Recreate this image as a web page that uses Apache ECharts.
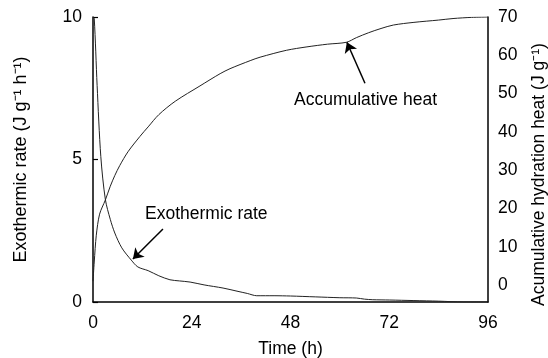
<!DOCTYPE html>
<html>
<head>
<meta charset="utf-8">
<script src="https://cdn.jsdelivr.net/npm/echarts@6/dist/echarts.min.js"></script>
<style>html,body{margin:0;padding:0;background:#fff}#c{width:548px;height:358px}</style>
</head>
<body>
<div id="c"></div>
<script>
// Exothermic rate (left axis)
const exoTime = [0, 0.3, 1.0, 1.9, 3.0, 4.2, 5.3, 7.0, 9.3, 10.9, 13.4, 16.0, 18.7, 21.0, 23.6, 27.0, 31.6, 35.0, 37.5, 39.8, 44.0, 48.0, 54.0, 60.0, 64.0, 66.0, 68.0, 72.0, 78.0, 84.0, 90.0, 96.0];
const exoRate = [10, 9.95, 7.6, 5.1, 3.6, 2.9, 2.42, 1.9, 1.47, 1.23, 1.1, 0.92, 0.78, 0.74, 0.70, 0.60, 0.49, 0.38, 0.30, 0.22, 0.22, 0.21, 0.18, 0.15, 0.14, 0.10, 0.08, 0.07, 0.05, 0.03, 0.0, 0.0];
// Accumulative heat (right axis)
const accTime = [0, 0.3, 0.8, 1.6, 3.0, 4.2, 5.3, 6.5, 8.5, 11.4, 13.4, 16.0, 20.0, 26.0, 30.9, 33.3, 38.2, 40.6, 47.0, 52.0, 57.0, 61.6, 64.0, 67.0, 70.0, 73.0, 78.0, 84.0, 87.5, 92.0, 96.0];
const accHeat = [1.0, 6.0, 13.0, 18.5, 22.2, 25.8, 28.6, 31.2, 34.8, 38.8, 41.3, 44.5, 48.0, 52.0, 55.2, 56.5, 58.6, 59.5, 61.3, 62.2, 62.9, 63.4, 64.6, 65.9, 67.0, 67.9, 68.6, 69.2, 69.6, 69.9, 70.0];
const xTicks = [0, 24, 48, 72, 96];
const rightTicks = [0, 10, 20, 30, 40, 50, 60, 70];

const FS = 17.5;
const FF = 'Liberation Sans, Arial, sans-serif';
const chart = echarts.init(document.getElementById('c'));
chart.setOption({
  animation: false,
  grid: {left: 93, right: 60, top: 17, bottom: 56, outerBoundsMode: 'none', containLabel: false},
  xAxis: {
    type: 'value', min: 0, max: 96, interval: 24,
    name: 'Time (h)', nameLocation: 'middle', nameGap: 38,
    nameTextStyle: {fontSize: FS, fontFamily: FF, color: '#000'},
    axisLine: {lineStyle: {color: '#000', width: 1.5}},
    axisTick: {show: false},
    axisLabel: {fontSize: FS, fontFamily: FF, color: '#000', margin: 12},
    splitLine: {show: false}
  },
  yAxis: [{
    type: 'value', min: 0, max: 10, interval: 5, position: 'left',
    name: 'Exothermic rate (J g\u207B\u00B9 h\u207B\u00B9)', nameLocation: 'middle', nameGap: 63, nameRotate: 90,
    nameTextStyle: {fontSize: 18, fontFamily: FF, color: '#000'},
    axisLine: {show: true, lineStyle: {color: '#000', width: 1.5}},
    axisTick: {show: true, inside: true, length: 5, lineStyle: {color: '#000', width: 1.2}},
    axisLabel: {fontSize: FS, fontFamily: FF, color: '#000', margin: 11},
    splitLine: {show: false}
  }, {
    type: 'value', min: -4.44, max: 70, position: 'right', alignTicks: false,
    name: 'Acumulative hydration heat (J g\u207B\u00B9)', nameLocation: 'middle', nameGap: 42, nameRotate: 90,
    nameTextStyle: {fontSize: FS, fontFamily: FF, color: '#000', padding: [0, 30, 0, 0]},
    axisLine: {show: true, lineStyle: {color: '#000', width: 1.5}},
    axisTick: {show: false},
    axisLabel: {fontSize: FS, fontFamily: FF, color: '#000', margin: 10, customValues: rightTicks},
    splitLine: {show: false}
  }],
  series: [{
    type: 'line', yAxisIndex: 0, showSymbol: false, smooth: 0.3,
    data: exoTime.map((t, i) => [t, exoRate[i]]),
    lineStyle: {color: '#222', width: 1},
    markLine: {
      silent: true, symbol: ['none', 'arrow'], symbolSize: 10,
      lineStyle: {color: '#000', width: 1.5, type: 'solid'}, label: {show: false},
      data: [[{coord: [17.0, 2.56]}, {coord: [9.7, 1.51]}]]
    }
  }, {
    type: 'line', yAxisIndex: 1, showSymbol: false, smooth: 0.3,
    data: accTime.map((t, i) => [t, accHeat[i]]),
    lineStyle: {color: '#222', width: 1},
    markLine: {
      silent: true, symbol: ['none', 'arrow'], symbolSize: 10,
      lineStyle: {color: '#000', width: 1.5, type: 'solid'}, label: {show: false},
      data: [[{coord: [66.1, 52.7]}, {coord: [61.7, 63.4]}]]
    }
  }],
  graphic: [
    {type: 'text', left: 145, top: 205, style: {text: 'Exothermic rate', fontSize: FS, fontFamily: FF, fill: '#000'}},
    {type: 'text', left: 294, top: 91, style: {text: 'Accumulative heat', fontSize: FS, fontFamily: FF, fill: '#000'}}
  ]
});
</script>
</body>
</html>
